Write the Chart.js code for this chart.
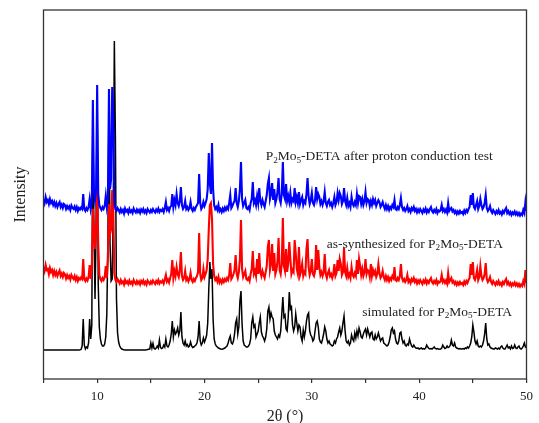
<!DOCTYPE html>
<html>
<head>
<meta charset="utf-8">
<script src="https://cdn.jsdelivr.net/npm/chart.js@4/dist/chart.umd.min.js"></script>
<style>
  html, body { margin: 0; padding: 0; background: #ffffff; }
  #wrap { width: 539px; height: 423px; }
</style>
</head>
<body>
<div id="wrap"><canvas id="xrd" width="539" height="423"></canvas></div>
<script>
// Powder XRD patterns, 2θ from 5° to 50° in 0.1° steps (stacked, arbitrary units)
const TWO_THETA_START = 5.0;
const TWO_THETA_STEP = 0.1;

// P2Mo5-DETA after proton conduction test
const afterTest = [
  1800,1760,1820,1770,1790,1750,1800,1760,1780,1740,
  1770,1730,1760,1720,1750,1770,1720,1745,1710,1750,
  1740,1700,1730,1705,1725,1690,1735,1710,1700,1725,
  1690,1720,1680,1710,1695,1715,1700,1850,1700,1680,
  1710,1690,1720,1800,1700,1760,2790,1880,1790,1900,
  2940,1850,1740,1710,1690,1720,1700,1730,1830,1720,
  1800,2900,1900,2000,2920,2600,1750,1700,1680,1710,
  1690,1665,1700,1670,1690,1655,1705,1675,1690,1660,
  1700,1670,1685,1660,1705,1680,1665,1695,1670,1690,
  1660,1695,1675,1700,1665,1685,1660,1700,1680,1665,
  1690,1670,1700,1680,1665,1695,1675,1705,1670,1690,
  1680,1700,1670,1710,1770,1690,1710,1680,1720,1730,
  1850,1720,1790,1740,1850,1760,1730,1780,1920,1740,
  1700,1720,1780,1700,1720,1690,1710,1770,1700,1680,
  1710,1690,1720,1740,1760,2050,1760,1700,1720,1770,
  1730,1760,1800,1900,2260,1950,1850,2360,1900,1740,
  1700,1720,1690,1740,1680,1700,1670,1705,1680,1715,
  1690,1720,1700,1760,1840,1710,1730,1760,1780,1910,
  1760,1720,1780,1900,2170,1800,1730,1760,1790,1710,
  1700,1720,1690,1760,1800,1970,1760,1790,1740,1830,
  1760,1910,1780,1740,1790,1750,1720,1780,1840,1950,
  2010,1800,1850,1960,1790,1900,1760,1800,1870,2010,
  1800,1760,1850,2170,1840,1800,1950,1780,1830,1770,
  1860,1760,1800,1780,1910,1770,1820,1760,1870,1750,
  1790,1820,1740,1780,1760,1850,2010,1820,1750,1790,
  1860,1760,1740,1790,1920,1800,1850,1820,1750,1780,
  1740,1780,1870,1760,1730,1770,1790,1740,1760,1720,
  1760,1820,1740,1770,1860,1790,1860,1830,1750,1780,
  1910,1780,1740,1810,1730,1760,1720,1820,1750,1730,
  1770,1740,1850,1760,1830,1820,1750,1800,1740,1780,
  1870,1760,1800,1790,1730,1780,1740,1800,1760,1790,
  1730,1760,1790,1770,1720,1740,1770,1730,1700,1740,
  1700,1730,1690,1720,1700,1740,1720,1790,1700,1690,
  1720,1700,1740,1810,1720,1690,1710,1680,1700,1730,
  1680,1700,1670,1710,1690,1720,1680,1700,1665,1695,
  1670,1700,1680,1660,1695,1675,1705,1665,1690,1670,
  1700,1720,1680,1665,1690,1670,1700,1660,1685,1675,
  1690,1740,1680,1700,1670,1695,1665,1760,1680,1700,
  1710,1675,1690,1660,1680,1650,1675,1655,1680,1660,
  1670,1650,1685,1660,1690,1670,1700,1720,1840,1740,
  1860,1720,1700,1740,1780,1700,1730,1800,1740,1700,
  1720,1760,1840,1710,1680,1700,1730,1680,1660,1690,
  1670,1650,1680,1660,1690,1655,1670,1645,1680,1660,
  1690,1710,1660,1680,1650,1670,1640,1665,1650,1675,
  1645,1665,1640,1660,1635,1655,1640,1690,1660,1770,
  1680
];

// as-synthesized P2Mo5-DETA
const asSynthesized = [
  1120,1080,1140,1090,1100,1050,1110,1070,1090,1040,
  1080,1040,1070,1030,1060,1085,1030,1055,1020,1060,
  1045,1005,1040,1010,1030,995,1040,1015,1000,1030,
  990,1020,980,1010,995,1015,1000,1200,1000,980,
  1005,985,1020,1140,1000,1100,1700,1450,1300,1550,
  1910,1350,1040,1000,980,1010,990,1020,1130,1010,
  1200,1750,1450,1500,1890,1700,1050,990,970,1000,
  980,955,990,960,975,945,990,960,975,950,
  985,955,970,945,990,965,950,980,955,975,
  945,980,960,985,950,970,945,985,965,950,
  975,955,985,965,950,980,960,990,955,975,
  965,985,955,995,1040,975,995,965,1010,1050,
  1190,1010,1080,1030,1120,1050,1020,1090,1270,1030,
  990,1010,1080,990,1010,975,1000,1060,990,970,
  1000,980,1010,1030,1070,1460,1050,990,1010,1100,
  1020,1050,1090,1200,1500,1740,1760,1600,1150,1030,
  990,1010,975,1020,965,990,960,995,970,1000,
  980,1010,990,1040,1160,1000,1020,1050,1090,1240,
  1050,1010,1070,1200,1590,1100,1020,1050,1080,1000,
  990,1010,980,1050,1100,1280,1050,1080,1030,1200,
  1050,1260,1070,1030,1080,1040,1010,1070,1130,1320,
  1390,1090,1150,1350,1080,1260,1050,1090,1180,1410,
  1090,1050,1150,1610,1130,1080,1300,1070,1160,1370,
  1200,1050,1090,1070,1390,1260,1100,1050,1320,1040,
  1080,1150,1030,1070,1050,1300,1400,1120,1040,1080,
  1200,1050,1030,1080,1340,1090,1290,1120,1040,1070,
  1030,1070,1250,1050,1010,1060,1090,1030,1050,1010,
  1050,1150,1030,1060,1190,1080,1200,1150,1040,1070,
  1310,1070,1030,1110,1020,1050,1010,1120,1040,1020,
  1060,1030,1190,1050,1200,1130,1040,1100,1030,1070,
  1200,1050,1090,1080,1020,1150,1030,1090,1050,1080,
  1020,1050,1150,1060,1010,1030,1080,1020,990,1030,
  990,1020,980,1010,990,1030,1010,1120,990,980,
  1010,990,1030,1150,1010,980,1000,970,990,1040,
  970,990,960,1000,980,1010,970,990,955,985,
  960,990,970,950,985,965,995,955,980,960,
  990,1010,970,955,980,960,990,950,975,965,
  980,1040,970,990,960,985,955,1060,970,990,
  1010,965,980,950,970,940,965,945,970,950,
  960,940,975,950,980,960,990,1010,1150,1040,
  1170,1010,990,1030,1090,990,1020,1130,1030,990,
  1010,1050,1160,1000,970,990,1020,970,950,980,
  960,940,970,950,980,945,960,935,970,950,
  980,1000,950,970,940,960,930,955,940,965,
  935,955,930,950,925,945,930,980,950,1090,
  960
];

// simulated pattern for P2Mo5-DETA
const simulated = [
  290,290,290,290,290,290,290,290,290,290,
  290,290,290,290,290,290,290,290,290,290,
  290,290,290,290,290,290,290,290,290,290,
  290,290,290,290,292,295,330,600,340,300,
  320,310,360,600,400,540,2600,1500,800,1500,
  2800,950,520,400,350,330,330,350,420,650,
  1400,2750,1350,980,1000,1700,3380,2400,800,460,
  370,330,310,300,295,292,290,290,290,290,
  290,290,290,290,290,290,290,290,290,290,
  290,290,290,290,290,290,292,295,298,300,
  360,310,355,305,300,310,330,310,390,315,
  305,310,340,320,400,330,320,340,380,450,
  580,420,490,450,470,510,440,480,670,420,
  360,340,380,330,345,320,330,370,330,315,
  320,330,340,360,420,580,380,340,360,410,
  370,400,440,560,900,1170,1000,1100,600,400,
  350,330,320,310,305,300,298,300,305,310,
  320,330,360,400,430,360,350,380,450,560,
  600,450,520,780,880,550,380,340,330,320,
  320,330,350,400,560,620,520,540,420,450,
  480,560,620,470,430,410,380,420,500,680,
  720,600,660,620,600,480,440,420,400,440,
  420,480,650,820,620,640,500,480,620,870,
  700,720,540,480,520,650,560,480,540,520,
  420,380,490,420,480,580,640,660,480,440,
  420,380,400,480,560,580,520,400,370,360,
  400,450,520,480,400,360,380,350,340,330,
  340,380,360,400,420,470,510,440,480,560,
  630,480,380,360,380,340,360,440,400,380,
  460,410,480,430,510,470,420,410,450,480,
  500,440,500,460,420,460,470,400,390,440,
  400,420,460,420,380,400,410,360,350,340,
  330,340,370,420,490,510,460,480,400,360,
  350,380,460,470,400,360,380,340,330,350,
  340,400,360,330,320,340,320,310,305,310,
  300,305,310,300,305,300,310,340,320,305,
  300,305,300,310,320,305,300,305,300,298,
  300,310,340,320,305,310,330,315,320,340,
  390,340,330,360,320,310,305,300,305,300,
  300,305,300,310,305,320,310,330,360,420,
  540,470,380,350,380,330,320,330,320,340,
  380,450,560,400,340,350,320,310,305,300,
  300,310,305,300,310,300,320,330,310,300,
  300,320,340,310,320,300,330,305,310,340,
  310,305,320,330,305,300,310,330,360,320,
  330
];

// Curve labels: [left edge 2θ, baseline intensity, text parts]
const curveLabels = [
  [25.7, 2190, [['P'], ['2', 1], ['Mo'], ['5', 1], ['-DETA after proton conduction test']]],
  [31.4, 1315, [['as-synthesized for P'], ['2', 1], ['Mo'], ['5', 1], ['-DETA']]],
  [34.7, 635,  [['simulated for P'], ['2', 1], ['Mo'], ['5', 1], ['-DETA']]]
];

const SERIF = "'Liberation Serif', 'Times New Roman', serif";

function toPoints(values) {
  return values.map((v, i) => ({ x: +(TWO_THETA_START + i * TWO_THETA_STEP).toFixed(1), y: v }));
}

const framePlugin = {
  id: 'frame',
  afterDraw(chart) {
    const { ctx, chartArea: a } = chart;
    ctx.save();
    ctx.strokeStyle = '#333333';
    ctx.lineWidth = 1.3;
    ctx.strokeRect(a.left, a.top, a.right - a.left, a.bottom - a.top);
    ctx.restore();
  }
};

const curveLabelPlugin = {
  id: 'curveLabels',
  afterDatasetsDraw(chart) {
    const { ctx, scales } = chart;
    const size = 13.5;
    ctx.save();
    ctx.fillStyle = '#222222';
    ctx.textBaseline = 'alphabetic';
    ctx.textAlign = 'left';
    curveLabels.forEach(([xv, yv, parts]) => {
      let px = scales.x.getPixelForValue(xv);
      const py = scales.y.getPixelForValue(yv);
      parts.forEach(([text, sub]) => {
        ctx.font = (sub ? size * 0.68 : size) + 'px ' + SERIF;
        ctx.fillText(text, px, sub ? py + size * 0.22 : py);
        px += ctx.measureText(text).width;
      });
    });
    ctx.restore();
  }
};

new Chart(document.getElementById('xrd'), {
  type: 'line',
  data: {
    datasets: [
      { label: 'after proton conduction test', data: toPoints(afterTest), borderColor: '#0000ff', borderWidth: 2.1 },
      { label: 'as-synthesized', data: toPoints(asSynthesized), borderColor: '#ff0000', borderWidth: 2.1 },
      { label: 'simulated', data: toPoints(simulated), borderColor: '#000000', borderWidth: 1.5 }
    ]
  },
  options: {
    responsive: false,
    animation: false,
    devicePixelRatio: 1,
    elements: { point: { radius: 0 }, line: { tension: 0, fill: false } },
    layout: { padding: { top: 10, right: 3.5, left: 0, bottom: 0 }, autoPadding: false },
    plugins: { legend: { display: false }, tooltip: { enabled: false } },
    scales: {
      x: {
        type: 'linear',
        min: 5,
        max: 50,
        afterFit(scale) { scale.height = 44; },
        ticks: {
          stepSize: 5,
          autoSkip: false,
          maxRotation: 0,
          padding: 6,
          color: '#222222',
          font: { family: SERIF, size: 13 },
          callback: v => (v % 10 === 0 ? String(v) : '')
        },
        grid: { display: true, drawOnChartArea: false, drawTicks: true, tickLength: 4, color: '#333333', lineWidth: 1.2 },
        border: { display: false },
        title: { display: true, text: '2θ (°)', color: '#222222', font: { family: SERIF, size: 16, lineHeight: 0.8 }, padding: 0 }
      },
      y: {
        min: 0,
        max: 3690,
        afterFit(scale) { scale.width = 43.5; },
        ticks: { display: false },
        grid: { display: false, drawTicks: false },
        border: { display: false },
        title: { display: true, text: 'Intensity', color: '#222222', font: { family: SERIF, size: 16 }, padding: { top: 11, bottom: 0 } }
      }
    }
  },
  plugins: [framePlugin, curveLabelPlugin]
});
</script>
</body>
</html>
